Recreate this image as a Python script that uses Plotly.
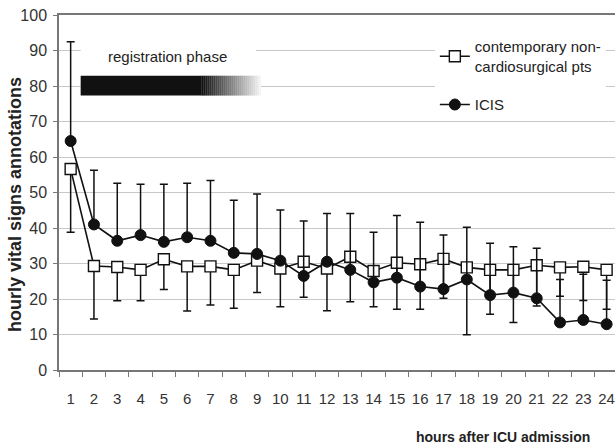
import plotly.graph_objects as go

hours = [str(h) for h in range(1, 25)]
icis = [64.5, 41.0, 36.4, 38.0, 36.1, 37.4, 36.4, 33.0, 32.7, 30.8, 26.5, 30.5,
        28.2, 24.7, 26.0, 23.5, 22.8, 25.5, 21.1, 21.8, 20.2, 13.4, 14.1, 12.9]
icis_upper = [92.5, 56.3, 52.6, 52.3, 52.3, 52.6, 53.4, 47.8, 49.6, 45.1, 42.0, 44.1,
              44.1, 38.8, 43.5, 41.6, 38.0, 40.2, 35.7, 34.7, 34.3, 25.5, 27.0, 25.3]
contemp = [56.6, 29.3, 29.0, 28.2, 31.2, 29.2, 29.2, 28.2, 30.8, 28.6, 30.5, 28.6,
           31.9, 27.9, 30.2, 29.8, 31.3, 28.9, 28.2, 28.2, 29.5, 28.9, 29.1, 28.2]
contemp_lower = [38.8, 14.4, 19.5, 19.5, 22.7, 16.6, 18.3, 17.4, 21.8, 17.8, 20.5, 16.7,
                 19.2, 17.8, 17.1, 17.1, 20.2, 9.9, 15.7, 13.4, 18.0, 20.8, 19.6, 17.1]
yticks = [0, 10, 20, 30, 40, 50, 60, 70, 80, 90, 100]

FONT = "Liberation Sans, Arial, sans-serif"

fig = go.Figure()
fig.add_trace(go.Scatter(
    x=hours, y=contemp, mode="lines+markers",
    name="contemporary non-<br>cardiosurgical pts", legendgroup="a",
    line=dict(color="#111", width=1.6),
    marker=dict(symbol="square", size=11, color="white", line=dict(color="#111", width=1.4)),
    error_y=dict(type="data", symmetric=False,
                 array=[0] * len(contemp),
                 arrayminus=[c - l for c, l in zip(contemp, contemp_lower)],
                 color="#111", thickness=1.5, width=4),
))
fig.add_trace(go.Scatter(
    x=hours, y=icis, mode="lines+markers", name="ICIS", legendgroup="b",
    line=dict(color="#111", width=1.6),
    marker=dict(symbol="circle", size=11, color="#111", line=dict(color="#111", width=1)),
    error_y=dict(type="data", symmetric=False,
                 array=[u - v for u, v in zip(icis_upper, icis)],
                 arrayminus=[0] * len(icis),
                 color="#111", thickness=1.5, width=4),
))

shapes = []
# white backing box behind "registration phase"
shapes.append(dict(type="rect", xref="x", yref="y", x0=0.43, x1=7.95, y0=76.5, y1=94,
                   fillcolor="white", line=dict(width=0), layer="between"))
# black bar
shapes.append(dict(type="rect", xref="x", yref="y", x0=0.43, x1=5.6, y0=77.3, y1=82.9,
                   fillcolor="#111", line=dict(width=0), layer="above"))
# gradient tail
n = 30
g0, g1 = 5.6, 8.17
for i in range(n):
    t = i / (n - 1)
    c = int(17 + (245 - 17) * t)
    shapes.append(dict(type="rect", xref="x", yref="y",
                       x0=g0 + (g1 - g0) * i / n, x1=g0 + (g1 - g0) * (i + 1) / n,
                       y0=77.3, y1=82.9, fillcolor=f"rgb({c},{c},{c})",
                       line=dict(width=0), layer="above"))

annotations = [
    dict(text="registration phase", xref="x", yref="y", x=4.16, y=88.2,
         showarrow=False, font=dict(family=FONT, size=15, color="#222")),
    dict(text="<b>hours after ICU admission</b>", xref="paper", yref="paper",
         x=0.798, y=-0.189, showarrow=False, xanchor="center", yanchor="middle",
         font=dict(family=FONT, size=14, color="#222")),
    dict(text="<b>hourly vital signs annotations</b>", xref="paper", yref="paper",
         x=-0.079, y=0.465, textangle=-90, showarrow=False, xanchor="center", yanchor="middle",
         font=dict(family=FONT, size=18, color="#222")),
]

fig.update_layout(
    width=615, height=448,
    margin=dict(l=59, r=0, t=15, b=78),
    paper_bgcolor="white", plot_bgcolor="white",
    showlegend=True,
    legend=dict(x=0.676, y=0.957, xanchor="left", yanchor="top",
                bgcolor="white", borderwidth=0, itemwidth=30,
                font=dict(family=FONT, size=15, color="#222"),
                tracegroupgap=16),
    shapes=shapes, annotations=annotations,
    xaxis=dict(type="category", range=[-0.5, 23.36], tickson="boundaries",
               ticks="outside", ticklen=5, tickcolor="#777", tickangle=0,
               showline=True, linecolor="#777", linewidth=1.5, mirror=True,
               showgrid=False, ticklabelstandoff=14,
               tickfont=dict(family=FONT, size=15, color="#333")),
    yaxis=dict(range=[0, 100], tickvals=yticks, ticks="outside", ticklen=4,
               tickcolor="#777", showline=True, linecolor="#777", linewidth=1.5,
               showgrid=True, gridcolor="#c8c8c8", gridwidth=1,
               zeroline=False, ticklabelstandoff=3,
               tickfont=dict(family=FONT, size=16, color="#333")),
)

fig.write_html("out.html")
